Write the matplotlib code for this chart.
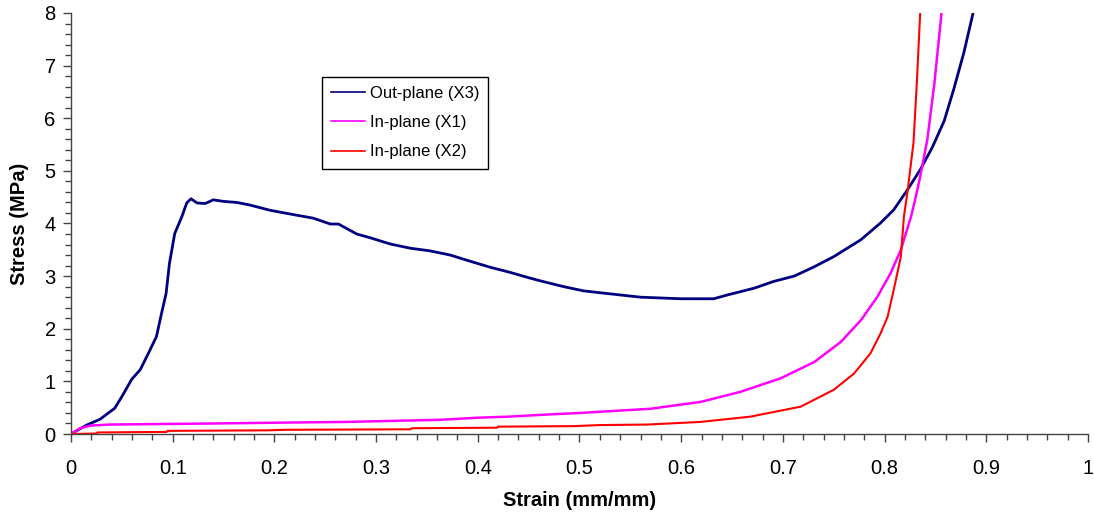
import matplotlib
matplotlib.use("Agg")
import matplotlib.pyplot as plt
from matplotlib.ticker import MultipleLocator

plt.rcParams['font.family'] = ['Liberation Sans', 'DejaVu Sans']

# Out-plane (X3)
x3_strain = [0, 0.008, 0.0154, 0.0285, 0.043, 0.050, 0.0597, 0.068, 0.076, 0.084, 0.089,
             0.0935, 0.0968, 0.102, 0.109, 0.1138, 0.118, 0.124, 0.132, 0.140, 0.150, 0.163,
             0.176, 0.196, 0.2156, 0.2385, 0.255, 0.263, 0.281, 0.294, 0.314, 0.3337, 0.353,
             0.373, 0.393, 0.412, 0.432, 0.450, 0.4616, 0.4845, 0.504, 0.527, 0.560, 0.5994,
             0.632, 0.645, 0.6716, 0.691, 0.711, 0.730, 0.750, 0.7766, 0.796, 0.809, 0.8225,
             0.835, 0.847, 0.8586, 0.868, 0.878, 0.887]
x3_stress = [0, 0.09, 0.17, 0.28, 0.49, 0.71, 1.04, 1.22, 1.53, 1.85, 2.29,
             2.67, 3.24, 3.81, 4.13, 4.39, 4.47, 4.39, 4.38, 4.45, 4.42, 4.40,
             4.35, 4.25, 4.18, 4.10, 3.99, 3.99, 3.80, 3.73, 3.61, 3.53, 3.48,
             3.40, 3.28, 3.17, 3.07, 2.97, 2.91, 2.80, 2.72, 2.67, 2.60, 2.57,
             2.57, 2.64, 2.77, 2.90, 3.00, 3.17, 3.37, 3.69, 4.01, 4.26, 4.64,
             5.02, 5.45, 5.95, 6.55, 7.25, 8.0]

# In-plane (X1)
x1_strain = [0, 0.009, 0.019, 0.038, 0.14, 0.20, 0.271, 0.363, 0.40, 0.43, 0.468, 0.50,
             0.535, 0.570, 0.619, 0.658, 0.698, 0.731, 0.757, 0.777, 0.793, 0.806, 0.816,
             0.826, 0.830, 0.835, 0.842, 0.849, 0.856]
x1_stress = [0, 0.11, 0.16, 0.18, 0.20, 0.215, 0.23, 0.27, 0.31, 0.33, 0.37, 0.40,
             0.44, 0.48, 0.61, 0.80, 1.06, 1.37, 1.75, 2.17, 2.61, 3.06, 3.50,
             4.13, 4.45, 4.89, 5.59, 6.67, 8.0]

# In-plane (X2)
x2_strain = [0, 0.025, 0.026, 0.094, 0.095, 0.193, 0.21, 0.334, 0.335, 0.419, 0.42, 0.494,
             0.52, 0.567, 0.619, 0.668, 0.7175, 0.750, 0.770, 0.786, 0.796, 0.803, 0.809,
             0.816, 0.819, 0.8225, 0.8284, 0.8317, 0.835]
x2_stress = [0, 0.01, 0.03, 0.04, 0.06, 0.07, 0.08, 0.09, 0.11, 0.12, 0.14, 0.15,
             0.17, 0.18, 0.23, 0.33, 0.52, 0.84, 1.15, 1.53, 1.91, 2.23, 2.74,
             3.37, 4.13, 4.6, 5.53, 6.67, 8.0]

fig = plt.figure(figsize=(10.94, 5.17), dpi=100)
ax = fig.add_axes([0.0649, 0.1605, 0.9296, 0.8144])

ax.plot(x3_strain, x3_stress, color='#000080', lw=2.0, label='Out-plane (X3)')
ax.plot(x1_strain, x1_stress, color='#FF00FF', lw=1.8, label='In-plane (X1)')
ax.plot(x2_strain, x2_stress, color='#FF0000', lw=1.5, label='In-plane (X2)')

ax.set_xlim(0, 1)
ax.set_ylim(0, 8)
ax.xaxis.set_major_locator(MultipleLocator(0.1))
ax.xaxis.set_minor_locator(MultipleLocator(0.02))
ax.yaxis.set_major_locator(MultipleLocator(1))
ax.yaxis.set_minor_locator(MultipleLocator(0.2))
ax.xaxis.set_major_formatter(plt.FuncFormatter(lambda v, p: '0' if abs(v) < 1e-9 else ('1' if abs(v - 1) < 1e-9 else f'{v:.1f}')))

for s in ['top', 'right']:
    ax.spines[s].set_visible(False)
for s in ['left', 'bottom']:
    ax.spines[s].set_color('#444444')
    ax.spines[s].set_linewidth(1.0)

ax.tick_params(which='major', direction='out', length=6, width=1, color='#444444',
               labelsize=14.5)
ax.tick_params(which='minor', direction='out', length=4, width=1, color='#444444')
ax.tick_params(axis='x', pad=12)
ax.tick_params(axis='y', pad=5)

ax.set_xlabel('Strain (mm/mm)', fontsize=14.5, fontweight='bold', labelpad=9)
ax.set_ylabel('Stress (MPa)', fontsize=14.5, fontweight='bold', labelpad=11)

leg = ax.legend(loc='upper left', bbox_to_anchor=(0.247, 0.848), fontsize=12,
                frameon=True, fancybox=False, edgecolor='black', framealpha=1,
                handlelength=2.0, handletextpad=0.3, borderpad=0.55, labelspacing=0.85,
                borderaxespad=0)
leg.get_frame().set_linewidth(1.0)
for line in leg.get_lines():
    line.set_linewidth(1.2)

fig.savefig('out.png', dpi=100)
